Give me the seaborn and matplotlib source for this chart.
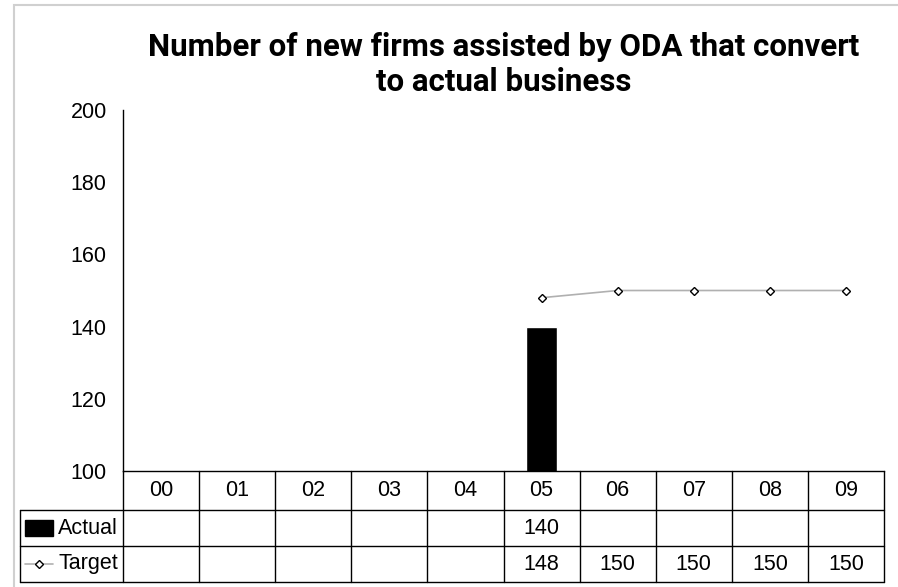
import numpy as np
import pandas as pd
import matplotlib.pyplot as plt
import matplotlib.transforms as mtransforms
from matplotlib.patches import Rectangle
from matplotlib.lines import Line2D
import seaborn as sns

years = ["00", "01", "02", "03", "04", "05", "06", "07", "08", "09"]
actual = [np.nan, np.nan, np.nan, np.nan, np.nan, 140, np.nan, np.nan, np.nan, np.nan]
target = [np.nan, np.nan, np.nan, np.nan, np.nan, 148, 150, 150, 150, 150]
row_names = ["Actual", "Target"]

df = pd.DataFrame({"year": years, "Actual": actual, "Target": target})
df["pos"] = np.arange(len(years))

sns.set_style("white")
plt.rcParams["font.family"] = ["Liberation Sans", "DejaVu Sans"]
plt.rcParams["text.color"] = "black"
FS = 15.5

fig = plt.figure(figsize=(8.98, 5.87), dpi=100)
ax = fig.add_axes([123 / 898, 1 - 471 / 587, 761 / 898, 361 / 587])

# outer chart frame
fig.patches.append(Rectangle((14 / 898, -0.1), 1.2, 1 - 5 / 587 + 0.1,
                             transform=fig.transFigure, fill=False,
                             edgecolor="#d0d0d0", linewidth=1.5))

sns.barplot(data=df, x="year", y="Actual", order=years, color="black",
            width=0.41, ax=ax, saturation=1)
tdf = df.dropna(subset=["Target"])
sns.lineplot(x=tdf["pos"], y=tdf["Target"], ax=ax, color="#b0b0b0", linewidth=1.2,
             marker="D", markersize=4.5, markerfacecolor="white",
             markeredgecolor="black", markeredgewidth=1.0)

ax.set_xlim(-0.5, len(years) - 0.5)
ax.set_ylim(100, 200)
ax.set_yticks(range(100, 201, 20))
ax.set_xticks([])
ax.set_xlabel("")
ax.set_ylabel("")
ax.tick_params(axis="y", direction="inout", length=9.5, width=1, labelsize=FS,
               pad=7, colors="black")
for s in ["top", "right"]:
    ax.spines[s].set_visible(False)
for s in ["left", "bottom"]:
    ax.spines[s].set_color("black")
    ax.spines[s].set_linewidth(1)

ax.set_title("Number of new firms assisted by ODA that convert\nto actual business",
             fontsize=22.5, fontweight="bold", pad=14, linespacing=1.2,
             color="black", family=["Roboto", "Liberation Sans"])

# data table under the axis
trans = mtransforms.blended_transform_factory(ax.transData, ax.transAxes)
h_head = 39 / 361
h_row = 36 / 361
y_head = -h_head
y_rows = [y_head - h_row, y_head - 2 * h_row]
y_bottom = y_rows[-1]
lbl_left = (20 - 123) / 761
lc = dict(color="black", linewidth=1, clip_on=False)

for i in range(len(years) + 1):
    ax.add_line(Line2D([i - 0.5, i - 0.5], [0, y_bottom], transform=trans, **lc))
for yy in [y_head] + y_rows:
    ax.add_line(Line2D([lbl_left, 1], [yy, yy], transform=ax.transAxes, **lc))
ax.add_line(Line2D([lbl_left, lbl_left], [y_head, y_bottom], transform=ax.transAxes, **lc))

for i, yr in enumerate(years):
    ax.text(i, y_head / 2, yr, transform=trans, ha="center", va="center", fontsize=FS)
for vals, yy in zip([actual, target], y_rows):
    for i, v in enumerate(vals):
        if not np.isnan(v):
            ax.text(i, yy + h_row / 2, f"{v:.0f}", transform=trans,
                    ha="center", va="center", fontsize=FS)

# legend keys in the row label column
y_act = y_rows[0] + h_row / 2
y_tar = y_rows[1] + h_row / 2
ax.add_patch(Rectangle((lbl_left + 0.006, y_act - 0.022), 0.037, 0.044,
                       transform=ax.transAxes, color="black", clip_on=False))
ax.add_line(Line2D([lbl_left + 0.006, lbl_left + 0.043], [y_tar, y_tar],
                   transform=ax.transAxes, color="#b0b0b0", linewidth=1.2, clip_on=False))
ax.add_line(Line2D([lbl_left + 0.0245], [y_tar], transform=ax.transAxes, marker="D",
                   markersize=4, markerfacecolor="white", markeredgecolor="black",
                   clip_on=False))
for name, yy in zip(row_names, [y_act, y_tar]):
    ax.text(lbl_left + 0.05, yy, name, transform=ax.transAxes, ha="left",
            va="center", fontsize=FS)

fig.savefig("out.png", dpi=100)
